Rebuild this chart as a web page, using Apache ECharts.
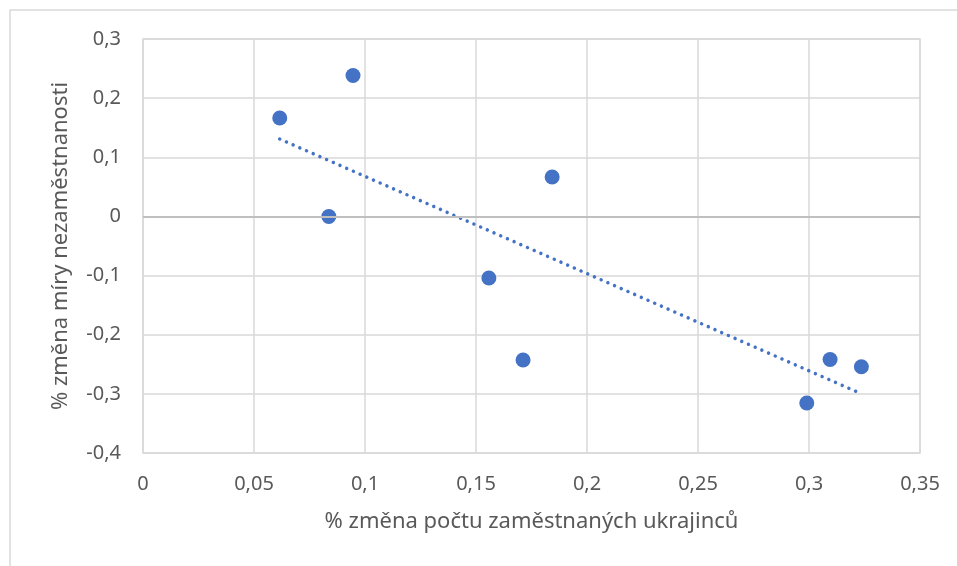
<!DOCTYPE html>
<html>
<head>
<meta charset="utf-8">
<script src="https://cdn.jsdelivr.net/npm/echarts@6/dist/echarts.min.js"></script>
<style>
  html, body { margin: 0; padding: 0; background: #fff; }
  #chart { width: 957px; height: 566px; }
</style>
</head>
<body>
<div id="chart"></div>
<script>
// % změna počtu zaměstnaných ukrajinců (x) a % změna míry nezaměstnanosti (y)
var xValues = [0.0616, 0.0946, 0.0837, 0.1558, 0.1843, 0.1712, 0.2990, 0.3095, 0.3236];
var yValues = [0.1664, 0.2384, 0.0, -0.1042, 0.0666, -0.2428, -0.3155, -0.2418, -0.2541];
// lineární trend - krajní body
var trendX = [0.0616, 0.3236];
var trendY = [0.1309, -0.2998];

var points = xValues.map(function (x, i) { return [x, yValues[i]]; });
var trend = trendX.map(function (x, i) { return [x, trendY[i]]; });

var fmt = function (v) {
  return String(+v.toFixed(2)).replace('.', ',');
};
var font = '"Noto Sans", "Open Sans", sans-serif';
var blue = '#4472C4';

var chart = echarts.init(document.getElementById('chart'));
chart.setOption({
  animation: false,
  textStyle: { fontFamily: font },
  graphic: [{
    type: 'rect',
    shape: { x: 10, y: 10, width: 1200, height: 800 },
    style: { fill: 'none', stroke: '#d9d9d9', lineWidth: 1.5 },
    silent: true
  }],
  grid: {
    left: 143, top: 39, right: 37, bottom: 113,
    show: true, borderColor: '#d9d9d9', borderWidth: 1.5
  },
  xAxis: {
    type: 'value',
    min: 0, max: 0.35, interval: 0.05,
    name: '% změna počtu zaměstnaných ukrajinců',
    nameLocation: 'middle',
    nameGap: 58,
    nameTextStyle: { color: '#595959', fontSize: 22, fontFamily: font },
    axisLine: { show: false },
    axisTick: { show: false },
    axisLabel: { color: '#595959', fontSize: 20, margin: 21, formatter: fmt },
    splitLine: { lineStyle: { color: '#d9d9d9', width: 1.5 } }
  },
  yAxis: {
    type: 'value',
    min: -0.4, max: 0.3, interval: 0.1,
    name: '% změna míry nezaměstnanosti',
    nameLocation: 'middle',
    nameGap: 71,
    nameTextStyle: { color: '#595959', fontSize: 22, fontFamily: font },
    axisLine: { show: false },
    axisTick: { show: false },
    axisLabel: { color: '#595959', fontSize: 20, margin: 22, formatter: fmt },
    splitLine: { lineStyle: { color: '#d9d9d9', width: 1.5 } }
  },
  series: [
    {
      type: 'line',
      z: 2,
      data: trend,
      symbol: 'none',
      lineStyle: { color: blue, width: 3.5, type: [0.01, 7.3], cap: 'round' },
      markLine: {
        silent: true,
        symbol: 'none',
        label: { show: false },
        lineStyle: { color: '#bfbfbf', width: 2, type: 'solid' },
        data: [{ yAxis: 0 }]
      }
    },
    {
      type: 'scatter',
      z: 3,
      data: points,
      symbol: 'circle',
      symbolSize: 15,
      itemStyle: { color: blue, opacity: 1 }
    }
  ]
});
</script>
</body>
</html>
